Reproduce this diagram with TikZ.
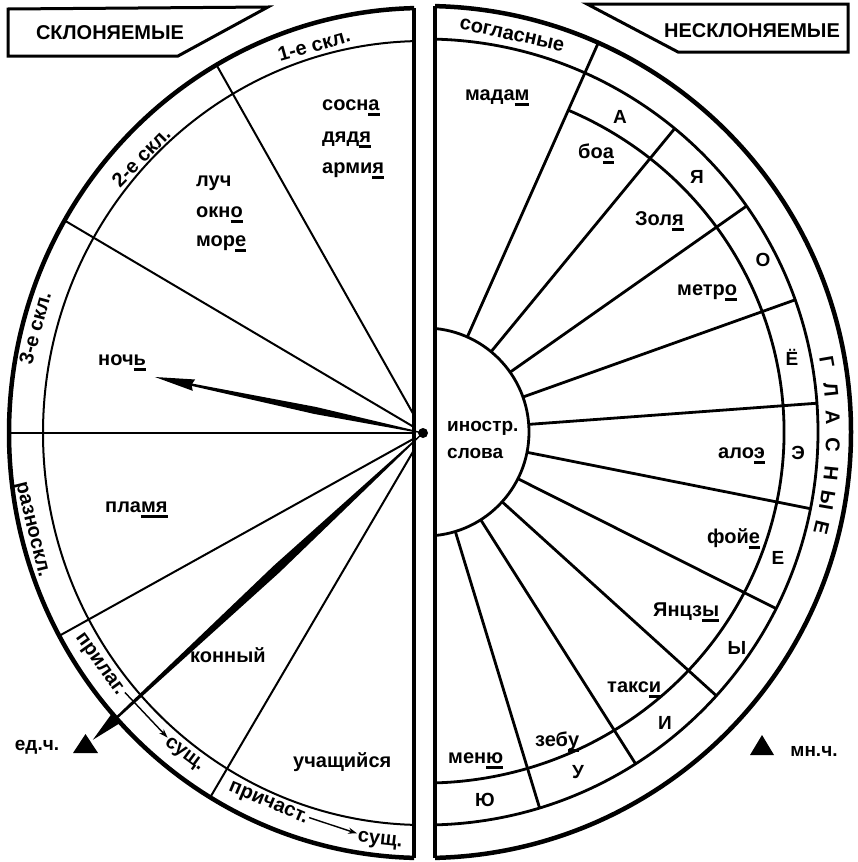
\documentclass[tikz,border=0pt]{standalone}
\usepackage{fontspec}
\setmainfont{Liberation Sans}
\usetikzlibrary{arrows.meta}
\newcommand\uln[1]{\setbox0\hbox{#1}\rlap{\rule[-6pt]{\wd0}{2.8pt}}\box0}
\begin{document}
\begin{tikzpicture}[x=1pt,y=1pt,
  word/.style={font=\fontsize{20}{23}\selectfont\bfseries, inner sep=0pt},
  wordsm/.style={font=\fontsize{19}{22}\selectfont\bfseries, inner sep=0pt},
  rimline/.style={line width=4.5pt},
  ringline/.style={line width=2pt},
  spokeline/.style={line width=2pt},
  rline/.style={line width=2.8pt},
  vertline/.style={line width=4pt},
  boxline/.style={line width=3pt, line join=miter},
  smallarrow/.style={line width=1.4pt, -{Stealth[length=9pt,width=6pt]}, shorten <=1pt, shorten >=1pt}]
\useasboundingbox (0,0) rectangle (858,-862);
\coordinate (CL) at (424,-433);
\coordinate (CR) at (425,-432);
\coordinate (pivot) at (423,-433);

% ---------- left half ----------
\begin{scope}
  \clip (0,0) rectangle (414,-862);
  \draw[rimline] (CL) ellipse [x radius=415, y radius=425];
  \draw[ringline] (CL) ellipse [x radius=381, y radius=392];
  \foreach \a in {120,150,180,208.5,239}
    \draw[spokeline] (CL) -- ([shift={(\a:415 and 425)}]CL);
\end{scope}
\draw[vertline] (414,-8) -- (414,-858);

% ---------- right half ----------
\begin{scope}
  \clip (435,0) rectangle (858,-862);
  \draw[rimline] (CR) circle [radius=426];
  \draw[rline] (CR) circle [radius=393];
  \draw[rline] (CR) circle [radius=104];
  \draw[rline] ([shift={(66.5:359 and 351)}]CR) arc [start angle=66.5, end angle=-100, x radius=359, y radius=351];
  \draw[rline] ([shift={(66:104)}]CR) -- ([shift={(66:426)}]CR);
  \foreach \a in {50.55,35.1,19.65,4.2,-11.25,-26.7,-42.15,-57.6,-73.05}
    \draw[rline] ([shift={(\a:104)}]CR) -- ([shift={(\a:393)}]CR);
\end{scope}
\draw[vertline] (435,-6) -- (435,-858);

% ---------- header boxes ----------
\draw[boxline] (8,-9) -- (268,-7) -- (178,-56) -- (8,-56) -- cycle;
\node[word] (hleft) at (110,-33) {СКЛОНЯЕМЫЕ};
\draw[boxline] (587,-4) -- (848,-4) -- (848,-52) -- (678,-52) -- cycle;
\node[word] (hright) at (752,-31) {НЕСКЛОНЯЕМЫЕ};

% ---------- left ring labels ----------
\node[word, rotate=15.8] (d1) at (314,-45) {1-е скл.};
\node[word, rotate=45.7] (d2) at (141,-157) {2-е скл.};
\node[word, rotate=74.9] (d3) at (35,-328) {3-е скл.};
\node[word, rotate=-76.1] (raz) at (31,-530) {разноскл.};
\node[word, rotate=-54.5] (prilag) at (99,-665) {прилаг.};
\node[word, rotate=-36.7] (sush1) at (184,-755) {сущ.};
\node[word, rotate=-22.8] (prich) at (268,-804) {причаст.};
\node[word, rotate=-6.2] (sush2) at (380,-841) {сущ.};
\draw[smallarrow] (prilag) -- (sush1);
\draw[smallarrow] (prich) -- (sush2);

% ---------- left words ----------
\node[word, anchor=base west] (sosna) at (322,-110) {сосн\uln{а}};
\node[word, anchor=base west] (dyadya) at (322,-142) {дяд\uln{я}};
\node[word, anchor=base west] (armiya) at (322,-173) {арми\uln{я}};
\node[word, anchor=base west] (luch) at (196,-186) {луч};
\node[word, anchor=base west] (okno) at (196,-217) {окн\uln{о}};
\node[word, anchor=base west] (more) at (196,-246) {мор\uln{е}};
\node[word, anchor=base west] (noch) at (98,-365) {ноч\uln{ь}};
\node[word, anchor=base west] (plamya) at (105,-512) {пла\uln{мя}};
\node[word, anchor=base west] (konny) at (190,-662) {конный};
\node[word, anchor=base west] (uch) at (293,-767) {учащийся};

% ---------- right words ----------
\node[word, anchor=base west] (madam) at (465,-100) {мада\uln{м}};
\node[word, anchor=base west] (boa) at (578,-158) {бо\uln{а}};
\node[word, anchor=base west] (zolya) at (635,-225) {Зол\uln{я}};
\node[word, anchor=base west] (metro) at (677,-295) {метр\uln{о}};
\node[word, anchor=base west] (aloe) at (718,-458) {ало\uln{э}};
\node[word, anchor=base west] (foye) at (707,-543) {фой\uln{е}};
\node[word, anchor=base west] (yantsy) at (653,-616) {Янцз\uln{ы}};
\node[word, anchor=base west] (taksi) at (607,-692) {такс\uln{и}};
\node[word, anchor=base west] (zebu) at (535,-746) {зеб\uln{у}};
\node[word, anchor=base west] (menyu) at (448,-763) {мен\uln{ю}};
\node[wordsm, anchor=base west] (inostr) at (447,-431) {иностр.};
\node[wordsm, anchor=base west] (slova) at (447,-458) {слова};

% ---------- vowel band ----------
\node[wordsm] (vA) at (620,-117) {А};
\node[wordsm] (vYa) at (697,-177) {Я};
\node[wordsm] (vO) at (763,-260) {О};
\node[wordsm] (vYo) at (792,-357) {Ё};
\node[wordsm] (vE) at (798,-453) {Э};
\node[wordsm] (vYe) at (778,-558) {Е};
\node[wordsm] (vY) at (737,-648) {Ы};
\node[wordsm] (vI) at (665,-723) {И};
\node[wordsm] (vU) at (578,-772) {У};
\node[wordsm] (vYu) at (485,-800) {Ю};

% ---------- outer band right ----------
\node[word, rotate=-12.4] (sogl) at (512,-35) {согласные};
\foreach \ch [count=\i from 0] in {Г,Л,А,С,Н,Ы,Е} {
  \pgfmathsetmacro\ang{9.9-3.92*\i}
  \node[word, rotate=\ang-90] (gl\i) at ([shift={(\ang:408)}]CR) {\ch};
}

% ---------- number markers ----------
\fill (73,-753) -- (98,-753) -- (85.5,-734) -- cycle;
\node[wordsm] (edch) at (37,-747) {ед.ч.};
\fill (750,-755) -- (774,-755) -- (762,-735) -- cycle;
\node[wordsm] (mnch) at (814,-751) {мн.ч.};

% ---------- needles ----------
\coordinate (tip1) at (155,-377);
\coordinate (tip2) at (93,-740);
\begin{scope}[shift={(pivot)}, rotate=168.2]
  \fill (0,0.6) -- (110,3.6) -- (236,1.2) -- (234,5.8) -- (273.8,0) -- (234,-5.8) -- (236,-1.2) -- (110,-3.6) -- (0,-0.6) -- cycle;
\end{scope}
\begin{scope}[shift={(pivot)}, rotate=222.9]
  \fill (0,0.6) -- (200,4.4) -- (420,1.2) -- (418,6.5) -- (450.7,0) -- (418,-6.5) -- (420,-1.2) -- (200,-4.4) -- (0,-0.6) -- cycle;
\end{scope}
\fill (pivot) circle [radius=5];
\end{tikzpicture}
\end{document}
